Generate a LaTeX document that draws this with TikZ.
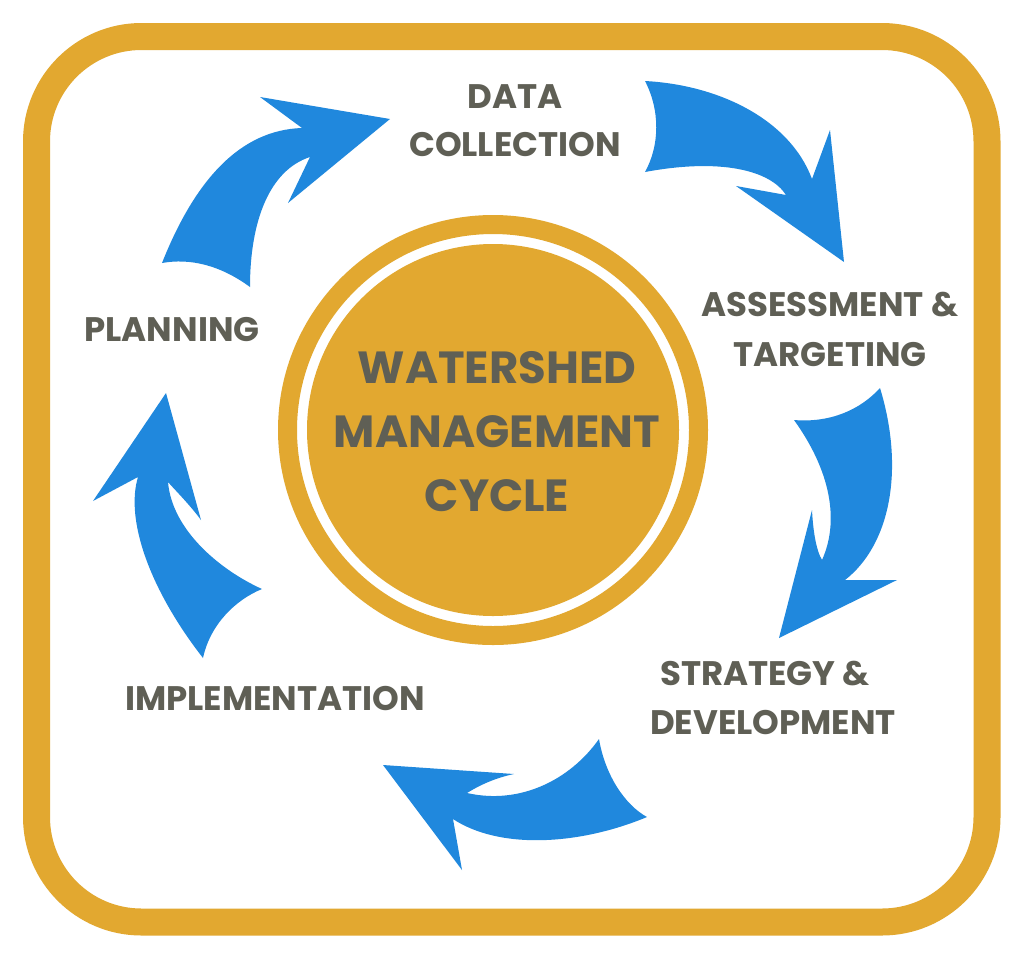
\documentclass[tikz,border=0pt]{standalone}
\usepackage{fontspec}
\setmainfont{Poppins}[UprightFont=* Bold]
\definecolor{gold}{HTML}{E2A830}
\definecolor{arrowblue}{HTML}{2088DD}
\definecolor{txt}{HTML}{5F5F55}
\begin{document}
\begin{tikzpicture}[x=1pt,y=-1pt,
  lbl/.style={text=txt,font=\fontsize{34}{40}\selectfont,inner sep=0pt,anchor=center},
  big/.style={text=txt,font=\fontsize{45}{54}\selectfont,inner sep=0pt,anchor=center},
  arr/.style={fill=arrowblue,draw=none}]
\useasboundingbox (0,0) rectangle (1024,962);
\fill[white] (0,0) rectangle (1024,962);
\draw[gold,line width=27pt,rounded corners=105pt] (36.5,36.5) rectangle (987,922);
\draw[gold,line width=19pt] (493,430) circle (205.5);
\fill[gold] (493,430) circle (186);
% arrows
\fill[arr] (162,263) .. controls (195,180) and (240,130) .. (302,128) -- (260,97) -- (390,119) -- (288,203) -- (310,157) .. controls (270,170) and (250,220) .. (250,287) .. controls (220,265) and (190,258) .. (162,263) -- cycle;
\fill[arr] (645,81) .. controls (720,85) and (790,120) .. (812,179) -- (830,130) -- (844,262) -- (736,186) -- (786,195) .. controls (770,170) and (720,158) .. (645,172) .. controls (660,145) and (660,110) .. (645,81) -- cycle;
\fill[arr] (880,388) .. controls (905,470) and (890,545) .. (845,580) -- (897,580) -- (779,638) -- (812,510) .. controls (813,530) and (816,550) .. (822,560) .. controls (840,520) and (830,470) .. (794,420) .. controls (830,423) and (860,410) .. (880,388) -- cycle;
\fill[arr] (647,817) .. controls (580,845) and (500,850) .. (453,819) -- (462,870) -- (383,765) -- (514,774) .. controls (495,778) and (480,785) .. (467,793) .. controls (520,805) and (570,780) .. (599,739) .. controls (605,775) and (625,805) .. (647,817) -- cycle;
\fill[arr] (203,658) .. controls (150,590) and (125,520) .. (138,477) -- (93,501) -- (166,393) -- (201,520) .. controls (190,505) and (175,490) .. (168,482) .. controls (172,530) and (220,570) .. (262,589) .. controls (235,600) and (210,625) .. (203,658) -- cycle;
% texts
\node[big] (w1) at (497,368) {WATERSHED};
\node[big] (w2) at (497,432) {MANAGEMENT};
\node[big] (w3) at (497,496) {CYCLE};
\node[lbl] (d1) at (515,97) {DATA};
\node[lbl] (d2) at (515,145) {COLLECTION};
\node[lbl] (a1) at (830,305) {ASSESSMENT \&};
\node[lbl] (a2) at (830,355) {TARGETING};
\node[lbl] (p1) at (172,330) {PLANNING};
\node[lbl] (s1) at (765,673) {STRATEGY \&};
\node[lbl] (s2) at (773,722) {DEVELOPMENT};
\node[lbl] (i1) at (275,698) {IMPLEMENTATION};
\end{tikzpicture}
\end{document}
